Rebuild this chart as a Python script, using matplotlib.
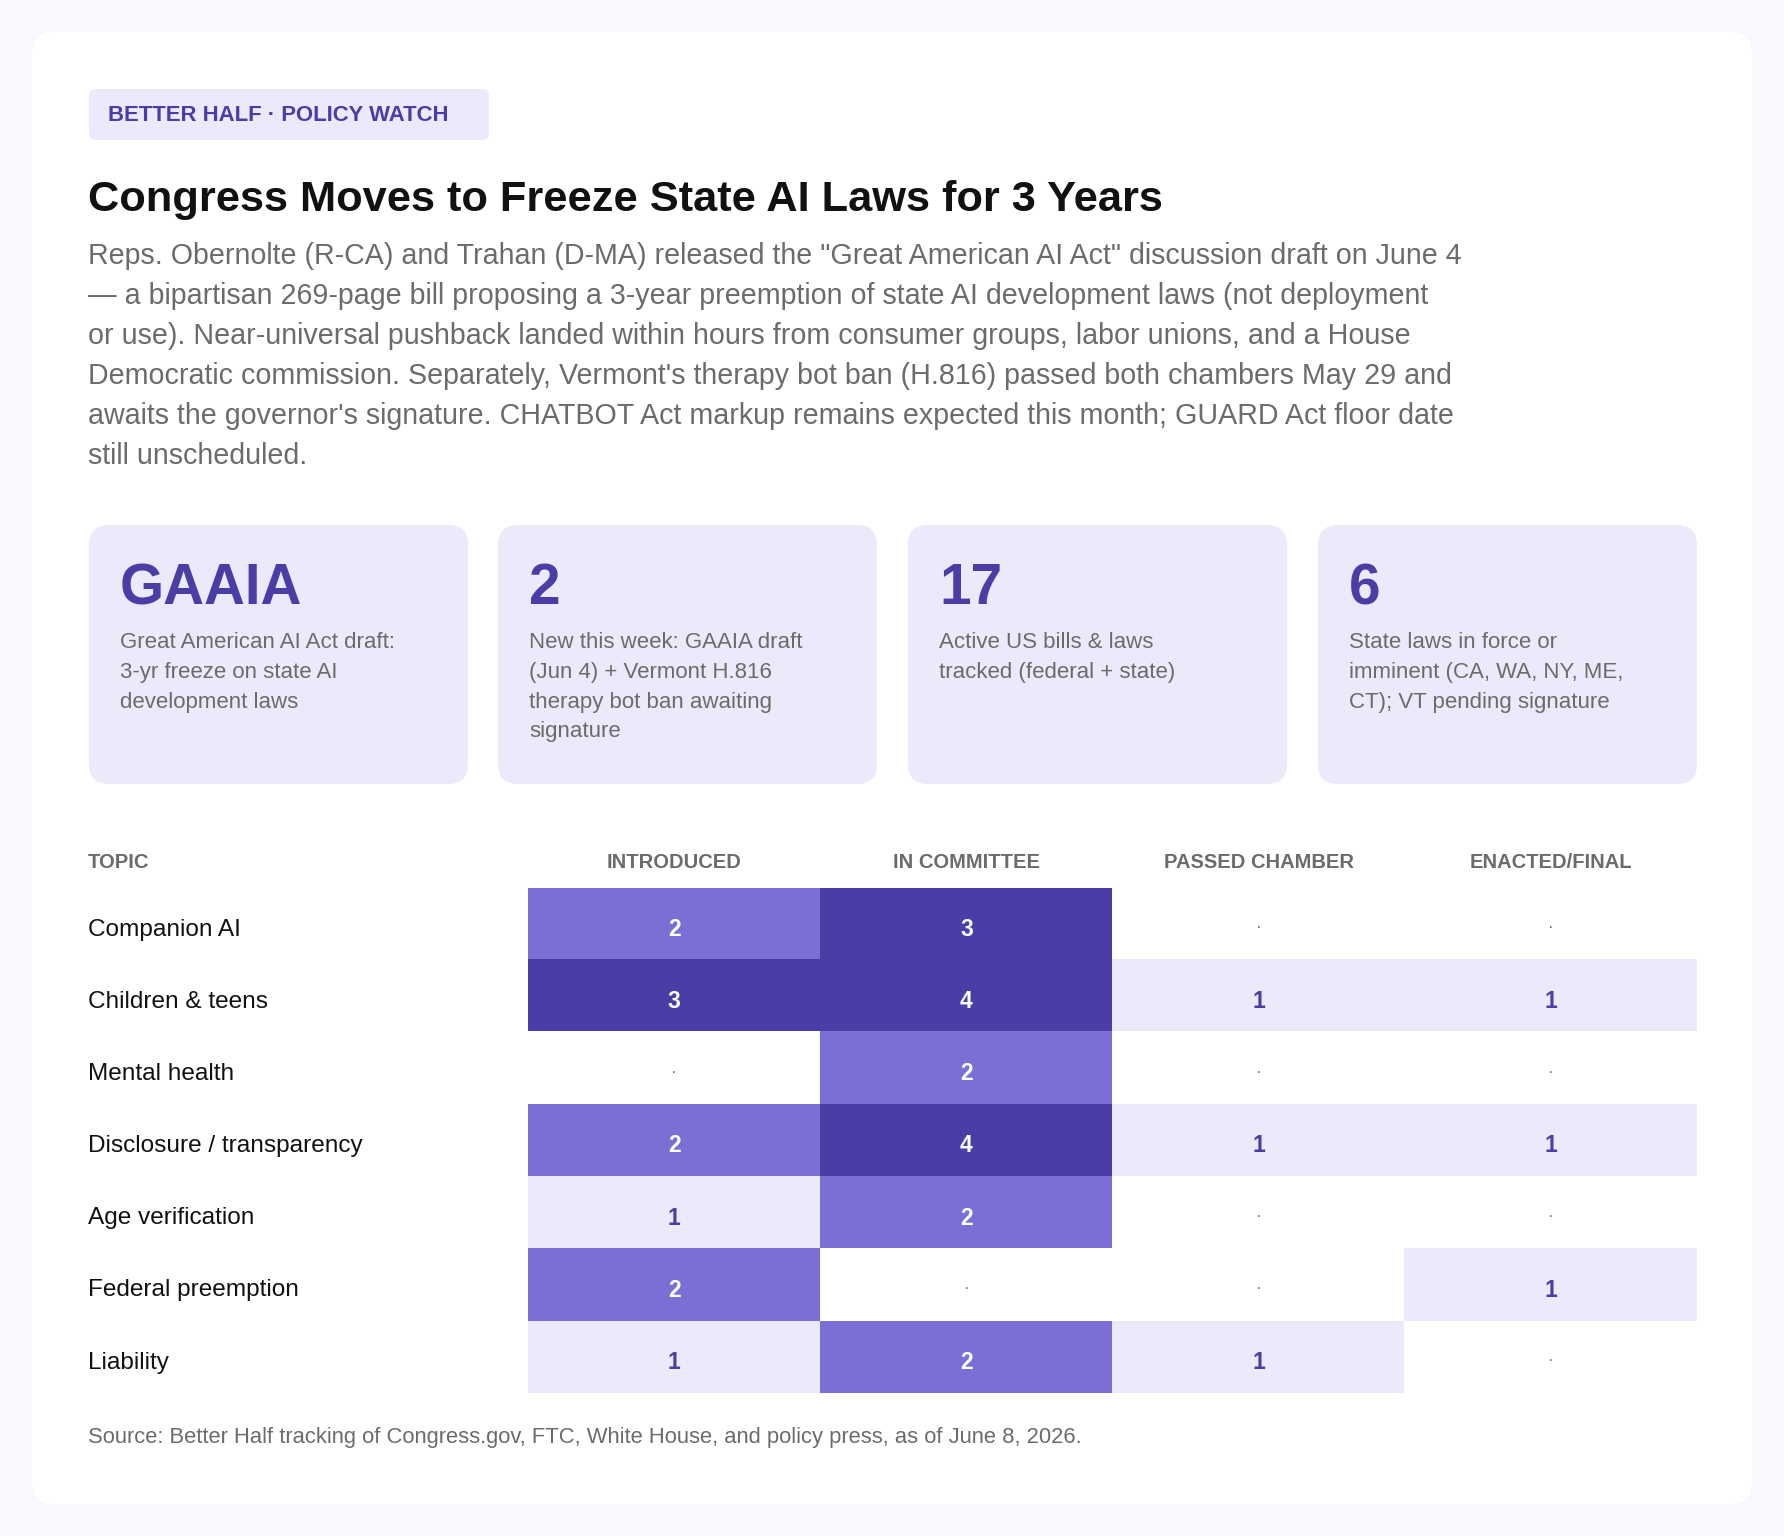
import matplotlib
matplotlib.use("Agg")
from matplotlib import pyplot as plt
from matplotlib.patches import FancyBboxPatch
from matplotlib.colors import ListedColormap, BoundaryNorm
import numpy as np

plt.rcParams["font.family"] = ["Liberation Sans", "DejaVu Sans"]

# --- data ---
badge = "BETTER HALF · POLICY WATCH"
title = "Congress Moves to Freeze State AI Laws for 3 Years"
subtitle_lines = [
    'Reps. Obernolte (R-CA) and Trahan (D-MA) released the "Great American AI Act" discussion draft on June 4',
    "— a bipartisan 269-page bill proposing a 3-year preemption of state AI development laws (not deployment",
    "or use). Near-universal pushback landed within hours from consumer groups, labor unions, and a House",
    "Democratic commission. Separately, Vermont's therapy bot ban (H.816) passed both chambers May 29 and",
    "awaits the governor's signature. CHATBOT Act markup remains expected this month; GUARD Act floor date",
    "still unscheduled.",
]
stat_values = ["GAAIA", "2", "17", "6"]
stat_labels = [
    ["Great American AI Act draft:", "3-yr freeze on state AI", "development laws"],
    ["New this week: GAAIA draft", "(Jun 4) + Vermont H.816", "therapy bot ban awaiting", "signature"],
    ["Active US bills & laws", "tracked (federal + state)"],
    ["State laws in force or", "imminent (CA, WA, NY, ME,", "CT); VT pending signature"],
]
stages = ["INTRODUCED", "IN COMMITTEE", "PASSED CHAMBER", "ENACTED/FINAL"]
topics = ["Companion AI", "Children & teens", "Mental health", "Disclosure / transparency",
          "Age verification", "Federal preemption", "Liability"]
counts = np.array([
    [2, 3, 0, 0],
    [3, 4, 1, 1],
    [0, 2, 0, 0],
    [2, 4, 1, 1],
    [1, 2, 0, 0],
    [2, 0, 0, 1],
    [1, 2, 1, 0],
])
source = "Source: Better Half tracking of Congress.gov, FTC, White House, and policy press, as of June 8, 2026."

# --- colours ---
page_bg = "#f8f8fd"
card_bg = "#ffffff"
light = "#ece9fa"
mid = "#7b6fd6"
dark = "#4a3da6"
grey = "#6b6b6b"

W, H = 1784, 1536
fig = plt.figure(figsize=(W / 100, H / 100), dpi=100, facecolor=page_bg)
bg = fig.add_axes([0, 0, 1, 1])
bg.set_xlim(0, W)
bg.set_ylim(H, 0)
bg.axis("off")

# main white card
bg.add_patch(FancyBboxPatch((32, 32), 1720, 1472, boxstyle="round,pad=0,rounding_size=24",
                            fc=card_bg, ec="none"))

# badge
bg.add_patch(FancyBboxPatch((89, 89), 400, 51, boxstyle="round,pad=0,rounding_size=7",
                            fc=light, ec="none"))
bg.text(108, 115.5, badge, fontsize=15.9, fontweight="bold", color=dark, va="center")

# title + subtitle
bg.text(88, 200.5, title, fontsize=31.2, fontweight="bold", color="#111111", va="center")
for i, line in enumerate(subtitle_lines):
    bg.text(88, 256.5 + 39.8 * i, line, fontsize=20.6, color=grey, va="center")

# stat cards
card_x = [89, 498, 908, 1318]
for x, val, lab in zip(card_x, stat_values, stat_labels):
    bg.add_patch(FancyBboxPatch((x, 525), 379, 259, boxstyle="round,pad=0,rounding_size=20",
                                fc=light, ec="none"))
    bg.text(x + 31, 589.5, val, fontsize=40.8, fontweight="bold", color=dark, va="center")
    for j, l in enumerate(lab):
        bg.text(x + 31, 643 + 29.6 * j, l, fontsize=16, color=grey, va="center")

# table header
left, right, top, bottom = 528, 1697, 887.5, 1392.7
bg.text(88, 862.5, "TOPIC", fontsize=14.5, fontweight="bold", color=grey, va="center")
col_w = (right - left) / len(stages)
for k, s in enumerate(stages):
    bg.text(left + col_w * (k + 0.5), 862.5, s, fontsize=14.5, fontweight="bold", color=grey,
            va="center", ha="center")

row_h = (bottom - top) / len(topics)
for i, t in enumerate(topics):
    bg.text(88, top + row_h * (i + 0.5) + 6, t, fontsize=17.6, color="#111111", va="center")

# heatmap cells
hm = fig.add_axes([left / W, 1 - bottom / H, (right - left) / W, (bottom - top) / H])
cmap = ListedColormap([card_bg, light, mid, dark])
norm = BoundaryNorm([-0.5, 0.5, 1.5, 2.5, 10], cmap.N)
hm.imshow(counts, cmap=cmap, norm=norm, aspect="auto", interpolation="nearest")
hm.axis("off")
for i in range(counts.shape[0]):
    for j in range(counts.shape[1]):
        v = counts[i, j]
        if v == 0:
            hm.text(j, i + 0.06, "·", ha="center", va="center", fontsize=12, color=grey)
        else:
            hm.text(j, i + 0.08, str(v), ha="center", va="center", fontsize=16.5,
                    fontweight="bold", color="white" if v >= 2 else dark)

bg.text(88, 1438, source, fontsize=15.8, color=grey, va="center")

fig.savefig("out.png", dpi=100, facecolor=page_bg)
